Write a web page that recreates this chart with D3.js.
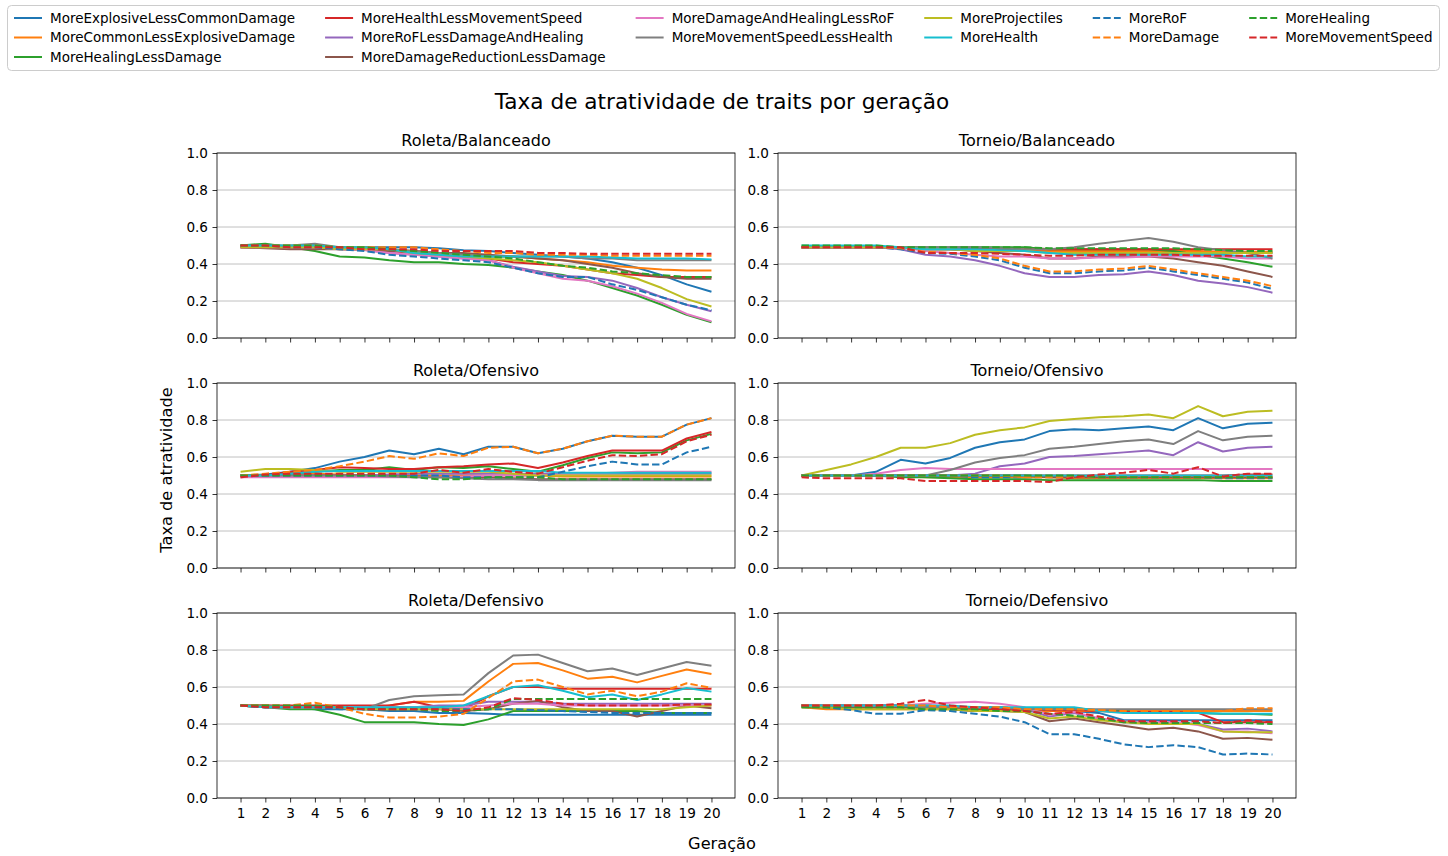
<!DOCTYPE html>
<html>
<head>
<meta charset="utf-8">
<script src="https://d3js.org/d3.v7.min.js"></script>
<style>
  html, body { margin: 0; padding: 0; background: #fff; }
  svg { display: block; font-family: "DejaVu Sans", sans-serif; }
</style>
</head>
<body>
<svg id="chart" width="1448" height="856"></svg>
<script>
// Generations on the x axis
const generations = [1, 2, 3, 4, 5, 6, 7, 8, 9, 10, 11, 12, 13, 14, 15, 16, 17, 18, 19, 20];
const yTicks = [0.0, 0.2, 0.4, 0.6, 0.8, 1.0];

// Traits, in plotting / legend order
const traitNames = [
  "MoreExplosiveLessCommonDamage", "MoreCommonLessExplosiveDamage", "MoreHealingLessDamage",
  "MoreHealthLessMovementSpeed", "MoreRoFLessDamageAndHealing", "MoreDamageReductionLessDamage",
  "MoreDamageAndHealingLessRoF", "MoreMovementSpeedLessHealth", "MoreProjectiles", "MoreHealth",
  "MoreRoF", "MoreDamage", "MoreHealing", "MoreMovementSpeed"
];
const traitColors = [
  "#1f77b4", "#ff7f0e", "#2ca02c", "#d62728", "#9467bd", "#8c564b", "#e377c2",
  "#7f7f7f", "#bcbd22", "#17becf", "#1f77b4", "#ff7f0e", "#2ca02c", "#d62728"
];
const traitDashed = [false, false, false, false, false, false, false, false, false, false, true, true, true, true];

// Attractiveness rate per generation, one row per trait (same order as traitNames)
const roletaBalanceado = [
  [0.49,0.49,0.49,0.49,0.49,0.49,0.49,0.49,0.485,0.475,0.47,0.46,0.45,0.44,0.43,0.41,0.38,0.34,0.29,0.25],
  [0.49,0.49,0.49,0.49,0.49,0.49,0.48,0.47,0.46,0.45,0.44,0.44,0.43,0.42,0.41,0.39,0.38,0.37,0.365,0.365],
  [0.50,0.51,0.49,0.47,0.44,0.435,0.42,0.41,0.41,0.40,0.395,0.38,0.36,0.34,0.31,0.27,0.23,0.18,0.125,0.085],
  [0.49,0.49,0.49,0.49,0.49,0.48,0.47,0.46,0.45,0.44,0.43,0.41,0.40,0.39,0.37,0.35,0.34,0.33,0.33,0.33],
  [0.49,0.49,0.49,0.49,0.48,0.475,0.46,0.45,0.44,0.43,0.42,0.385,0.36,0.335,0.33,0.31,0.27,0.22,0.18,0.145],
  [0.49,0.485,0.48,0.48,0.48,0.48,0.47,0.47,0.46,0.46,0.45,0.44,0.43,0.42,0.40,0.38,0.35,0.33,0.32,0.32],
  [0.49,0.49,0.49,0.49,0.48,0.475,0.46,0.45,0.44,0.43,0.42,0.38,0.35,0.32,0.31,0.28,0.24,0.19,0.13,0.09],
  [0.50,0.50,0.50,0.51,0.49,0.49,0.48,0.47,0.46,0.45,0.44,0.44,0.44,0.44,0.43,0.43,0.42,0.42,0.42,0.42],
  [0.49,0.49,0.49,0.49,0.48,0.48,0.48,0.46,0.45,0.44,0.43,0.42,0.41,0.39,0.37,0.35,0.32,0.27,0.21,0.17],
  [0.50,0.50,0.50,0.50,0.49,0.49,0.48,0.46,0.45,0.44,0.44,0.44,0.44,0.44,0.44,0.435,0.43,0.43,0.43,0.425],
  [0.50,0.50,0.49,0.49,0.48,0.47,0.45,0.44,0.43,0.42,0.41,0.38,0.35,0.33,0.33,0.29,0.26,0.22,0.18,0.15],
  [0.50,0.50,0.50,0.50,0.49,0.49,0.49,0.49,0.48,0.47,0.46,0.46,0.45,0.45,0.45,0.445,0.445,0.445,0.445,0.445],
  [0.50,0.50,0.50,0.50,0.49,0.49,0.48,0.47,0.46,0.45,0.44,0.43,0.41,0.39,0.38,0.36,0.35,0.34,0.33,0.33],
  [0.50,0.50,0.49,0.49,0.49,0.48,0.48,0.48,0.47,0.47,0.47,0.47,0.46,0.46,0.455,0.455,0.455,0.455,0.455,0.455]
];
const torneioBalanceado = [
  [0.49,0.49,0.49,0.49,0.49,0.48,0.48,0.48,0.475,0.47,0.47,0.47,0.47,0.47,0.465,0.465,0.465,0.46,0.46,0.46],
  [0.49,0.49,0.49,0.49,0.49,0.48,0.48,0.48,0.475,0.475,0.47,0.47,0.47,0.47,0.47,0.47,0.47,0.465,0.465,0.465],
  [0.49,0.49,0.49,0.49,0.49,0.49,0.49,0.49,0.49,0.49,0.48,0.48,0.48,0.48,0.48,0.47,0.45,0.43,0.41,0.385],
  [0.49,0.49,0.49,0.49,0.49,0.485,0.485,0.485,0.48,0.48,0.48,0.48,0.48,0.48,0.48,0.48,0.48,0.48,0.48,0.48],
  [0.49,0.49,0.49,0.49,0.48,0.45,0.44,0.42,0.39,0.35,0.33,0.33,0.34,0.345,0.36,0.34,0.31,0.295,0.275,0.245],
  [0.49,0.49,0.49,0.49,0.49,0.48,0.48,0.47,0.46,0.45,0.43,0.43,0.44,0.44,0.44,0.43,0.41,0.39,0.36,0.33],
  [0.49,0.49,0.49,0.49,0.49,0.47,0.46,0.45,0.44,0.44,0.43,0.43,0.435,0.435,0.44,0.44,0.44,0.44,0.43,0.43],
  [0.49,0.49,0.49,0.49,0.49,0.49,0.49,0.49,0.485,0.48,0.48,0.49,0.51,0.525,0.54,0.52,0.49,0.475,0.46,0.43],
  [0.49,0.49,0.49,0.49,0.49,0.48,0.48,0.47,0.47,0.47,0.46,0.46,0.46,0.46,0.46,0.46,0.46,0.46,0.46,0.46],
  [0.50,0.50,0.50,0.50,0.49,0.48,0.48,0.48,0.475,0.47,0.46,0.45,0.45,0.45,0.45,0.45,0.45,0.45,0.44,0.44],
  [0.49,0.49,0.49,0.49,0.48,0.46,0.455,0.44,0.42,0.38,0.35,0.35,0.36,0.365,0.38,0.36,0.34,0.32,0.30,0.265],
  [0.49,0.49,0.49,0.49,0.485,0.465,0.46,0.45,0.43,0.39,0.36,0.36,0.37,0.375,0.39,0.37,0.35,0.33,0.31,0.28],
  [0.50,0.50,0.50,0.50,0.49,0.49,0.49,0.49,0.49,0.49,0.485,0.485,0.485,0.485,0.485,0.485,0.48,0.475,0.47,0.47],
  [0.49,0.49,0.49,0.49,0.49,0.46,0.46,0.46,0.455,0.45,0.445,0.445,0.45,0.45,0.45,0.45,0.445,0.445,0.445,0.445]
];
const roletaOfensivo = [
  [0.50,0.505,0.52,0.54,0.575,0.60,0.635,0.615,0.645,0.615,0.655,0.655,0.62,0.645,0.685,0.715,0.71,0.71,0.775,0.81],
  [0.50,0.50,0.51,0.51,0.505,0.50,0.50,0.50,0.50,0.50,0.50,0.50,0.50,0.495,0.495,0.495,0.495,0.495,0.495,0.495],
  [0.50,0.50,0.51,0.52,0.53,0.53,0.545,0.53,0.545,0.54,0.55,0.535,0.52,0.555,0.595,0.625,0.62,0.625,0.69,0.725],
  [0.49,0.50,0.52,0.53,0.545,0.54,0.535,0.535,0.545,0.55,0.56,0.565,0.54,0.57,0.605,0.635,0.635,0.635,0.70,0.735],
  [0.50,0.50,0.50,0.50,0.50,0.50,0.505,0.51,0.51,0.51,0.51,0.51,0.51,0.51,0.51,0.51,0.51,0.51,0.51,0.51],
  [0.50,0.50,0.50,0.50,0.50,0.50,0.495,0.495,0.49,0.49,0.49,0.485,0.48,0.48,0.48,0.48,0.48,0.48,0.48,0.48],
  [0.49,0.49,0.49,0.49,0.49,0.49,0.49,0.49,0.49,0.495,0.50,0.50,0.50,0.505,0.51,0.515,0.52,0.52,0.52,0.52],
  [0.50,0.50,0.50,0.50,0.50,0.50,0.495,0.49,0.49,0.485,0.48,0.48,0.475,0.475,0.475,0.475,0.475,0.475,0.475,0.475],
  [0.52,0.535,0.535,0.53,0.52,0.52,0.52,0.52,0.52,0.52,0.52,0.51,0.50,0.50,0.50,0.50,0.50,0.50,0.50,0.50],
  [0.50,0.50,0.51,0.52,0.525,0.525,0.525,0.525,0.525,0.525,0.525,0.525,0.525,0.515,0.515,0.515,0.515,0.515,0.515,0.515],
  [0.50,0.50,0.50,0.50,0.50,0.50,0.50,0.50,0.50,0.49,0.49,0.49,0.49,0.52,0.55,0.575,0.56,0.56,0.625,0.655],
  [0.50,0.51,0.52,0.53,0.55,0.575,0.605,0.59,0.62,0.605,0.65,0.655,0.62,0.645,0.685,0.715,0.71,0.71,0.775,0.81],
  [0.50,0.50,0.50,0.50,0.50,0.50,0.50,0.49,0.48,0.48,0.49,0.49,0.49,0.48,0.48,0.48,0.48,0.48,0.48,0.48],
  [0.49,0.505,0.51,0.51,0.51,0.51,0.51,0.51,0.53,0.515,0.535,0.52,0.51,0.545,0.58,0.61,0.605,0.615,0.685,0.72]
];
const torneioOfensivo = [
  [0.50,0.50,0.50,0.52,0.585,0.565,0.595,0.65,0.68,0.695,0.74,0.75,0.745,0.755,0.765,0.745,0.81,0.755,0.78,0.785],
  [0.50,0.50,0.50,0.50,0.50,0.49,0.49,0.49,0.49,0.49,0.49,0.485,0.485,0.485,0.485,0.485,0.485,0.485,0.485,0.485],
  [0.50,0.50,0.50,0.50,0.49,0.49,0.485,0.48,0.48,0.48,0.475,0.475,0.475,0.475,0.475,0.475,0.475,0.47,0.47,0.47],
  [0.50,0.50,0.50,0.50,0.50,0.50,0.50,0.50,0.50,0.50,0.50,0.50,0.50,0.50,0.50,0.50,0.50,0.50,0.505,0.505],
  [0.50,0.50,0.50,0.50,0.50,0.50,0.50,0.51,0.55,0.565,0.60,0.605,0.615,0.625,0.635,0.61,0.68,0.63,0.65,0.655],
  [0.50,0.50,0.50,0.50,0.50,0.50,0.50,0.50,0.50,0.50,0.49,0.49,0.49,0.49,0.49,0.49,0.49,0.49,0.49,0.49],
  [0.50,0.50,0.50,0.51,0.53,0.54,0.535,0.535,0.535,0.535,0.535,0.535,0.535,0.535,0.535,0.535,0.535,0.535,0.535,0.535],
  [0.50,0.50,0.50,0.50,0.50,0.50,0.53,0.57,0.595,0.61,0.645,0.655,0.67,0.685,0.695,0.67,0.74,0.69,0.71,0.715],
  [0.50,0.53,0.56,0.60,0.65,0.65,0.675,0.72,0.745,0.76,0.795,0.805,0.815,0.82,0.83,0.81,0.875,0.82,0.845,0.85],
  [0.50,0.50,0.50,0.50,0.50,0.50,0.50,0.50,0.50,0.50,0.50,0.50,0.50,0.50,0.50,0.50,0.50,0.50,0.50,0.50],
  [0.50,0.50,0.50,0.50,0.50,0.50,0.50,0.49,0.49,0.49,0.49,0.49,0.49,0.49,0.49,0.49,0.49,0.485,0.485,0.485],
  [0.50,0.50,0.50,0.50,0.50,0.50,0.50,0.50,0.50,0.49,0.49,0.49,0.49,0.49,0.49,0.49,0.49,0.49,0.49,0.49],
  [0.50,0.50,0.50,0.50,0.50,0.50,0.50,0.50,0.50,0.50,0.50,0.50,0.49,0.49,0.49,0.49,0.49,0.49,0.49,0.49],
  [0.49,0.485,0.485,0.485,0.485,0.47,0.47,0.47,0.47,0.47,0.465,0.49,0.505,0.515,0.53,0.51,0.545,0.495,0.51,0.51]
];
const roletaDefensivo = [
  [0.50,0.49,0.49,0.48,0.48,0.48,0.47,0.47,0.46,0.46,0.455,0.45,0.45,0.45,0.45,0.45,0.45,0.45,0.45,0.45],
  [0.50,0.50,0.49,0.49,0.49,0.48,0.50,0.52,0.52,0.525,0.63,0.725,0.73,0.69,0.645,0.655,0.625,0.66,0.695,0.67],
  [0.50,0.49,0.48,0.48,0.45,0.41,0.41,0.41,0.40,0.395,0.425,0.47,0.47,0.47,0.47,0.47,0.47,0.46,0.46,0.46],
  [0.50,0.50,0.50,0.50,0.50,0.50,0.50,0.52,0.49,0.48,0.55,0.60,0.60,0.59,0.59,0.59,0.59,0.59,0.59,0.59],
  [0.50,0.49,0.49,0.49,0.49,0.49,0.49,0.49,0.50,0.50,0.52,0.52,0.52,0.51,0.51,0.51,0.51,0.51,0.51,0.51],
  [0.50,0.49,0.49,0.49,0.49,0.48,0.48,0.48,0.48,0.47,0.48,0.51,0.525,0.49,0.47,0.47,0.44,0.47,0.50,0.485],
  [0.50,0.49,0.49,0.49,0.49,0.49,0.49,0.49,0.49,0.49,0.50,0.51,0.51,0.50,0.50,0.50,0.50,0.50,0.50,0.50],
  [0.50,0.50,0.49,0.49,0.49,0.48,0.53,0.55,0.555,0.56,0.675,0.77,0.775,0.73,0.685,0.70,0.665,0.70,0.735,0.715],
  [0.50,0.49,0.49,0.49,0.49,0.48,0.48,0.48,0.48,0.48,0.48,0.48,0.48,0.48,0.48,0.48,0.48,0.48,0.49,0.50],
  [0.50,0.49,0.49,0.49,0.49,0.49,0.49,0.49,0.49,0.50,0.55,0.60,0.61,0.58,0.545,0.56,0.53,0.56,0.595,0.575],
  [0.50,0.49,0.49,0.49,0.48,0.48,0.48,0.48,0.48,0.48,0.48,0.48,0.475,0.47,0.465,0.46,0.46,0.46,0.46,0.46],
  [0.50,0.50,0.50,0.515,0.49,0.455,0.435,0.435,0.44,0.455,0.54,0.63,0.64,0.60,0.56,0.58,0.55,0.575,0.62,0.595],
  [0.50,0.50,0.50,0.50,0.49,0.48,0.48,0.48,0.47,0.47,0.48,0.535,0.535,0.535,0.535,0.535,0.535,0.535,0.535,0.535],
  [0.50,0.49,0.49,0.49,0.49,0.48,0.48,0.48,0.48,0.47,0.49,0.54,0.53,0.51,0.50,0.50,0.50,0.50,0.505,0.505]
];
const torneioDefensivo = [
  [0.50,0.50,0.50,0.50,0.50,0.50,0.49,0.49,0.49,0.48,0.47,0.47,0.46,0.42,0.42,0.42,0.42,0.42,0.42,0.42],
  [0.49,0.48,0.48,0.48,0.48,0.48,0.48,0.47,0.47,0.47,0.47,0.47,0.47,0.47,0.47,0.47,0.47,0.47,0.47,0.47],
  [0.49,0.49,0.49,0.49,0.49,0.49,0.49,0.48,0.48,0.48,0.48,0.485,0.475,0.47,0.46,0.46,0.46,0.455,0.455,0.45],
  [0.50,0.50,0.50,0.50,0.50,0.50,0.49,0.48,0.48,0.48,0.475,0.475,0.47,0.465,0.465,0.465,0.46,0.41,0.41,0.41],
  [0.50,0.49,0.49,0.49,0.49,0.49,0.49,0.49,0.49,0.48,0.44,0.46,0.43,0.41,0.41,0.41,0.40,0.37,0.375,0.36],
  [0.50,0.49,0.49,0.49,0.49,0.49,0.48,0.47,0.47,0.465,0.415,0.43,0.41,0.39,0.37,0.38,0.36,0.32,0.325,0.315],
  [0.50,0.50,0.50,0.50,0.50,0.51,0.515,0.52,0.51,0.49,0.45,0.465,0.43,0.415,0.41,0.41,0.395,0.36,0.36,0.35],
  [0.50,0.50,0.50,0.50,0.50,0.49,0.49,0.49,0.49,0.48,0.48,0.48,0.48,0.48,0.48,0.48,0.48,0.48,0.48,0.48],
  [0.50,0.49,0.48,0.48,0.48,0.48,0.48,0.47,0.47,0.465,0.43,0.44,0.42,0.41,0.40,0.40,0.40,0.36,0.355,0.355],
  [0.50,0.50,0.50,0.50,0.50,0.50,0.50,0.49,0.49,0.49,0.49,0.49,0.47,0.46,0.46,0.46,0.46,0.455,0.455,0.455],
  [0.50,0.49,0.475,0.455,0.455,0.475,0.47,0.455,0.44,0.41,0.345,0.345,0.32,0.29,0.275,0.285,0.275,0.235,0.24,0.235],
  [0.50,0.50,0.50,0.50,0.50,0.50,0.49,0.49,0.49,0.48,0.48,0.48,0.475,0.47,0.47,0.47,0.47,0.47,0.485,0.485],
  [0.49,0.49,0.49,0.49,0.49,0.48,0.48,0.48,0.47,0.47,0.455,0.445,0.43,0.41,0.405,0.405,0.405,0.405,0.405,0.40],
  [0.50,0.50,0.50,0.50,0.51,0.53,0.50,0.49,0.48,0.47,0.455,0.465,0.44,0.415,0.415,0.415,0.415,0.405,0.42,0.41]
];

const panelTitles = ["Roleta/Balanceado", "Torneio/Balanceado", "Roleta/Ofensivo", "Torneio/Ofensivo", "Roleta/Defensivo", "Torneio/Defensivo"];
const panelData = [roletaBalanceado, torneioBalanceado, roletaOfensivo, torneioOfensivo, roletaDefensivo, torneioDefensivo];

const svg = d3.select("#chart");
const FONT = "DejaVu Sans, sans-serif";

// Grid of subplot frames (2 columns x 3 rows)
const colX = [217, 778];
const rowY = [153, 383, 613];
const panelW = 518, panelH = 185;

// Figure title and shared labels
svg.append("text").attr("x", 722).attr("y", 109).attr("text-anchor", "middle")
  .attr("font-size", 21.6).attr("font-family", FONT).attr("fill", "#000")
  .text("Taxa de atratividade de traits por geração");
svg.append("text").attr("transform", "translate(172,470) rotate(-90)").attr("text-anchor", "middle")
  .attr("font-size", 16.2).attr("font-family", FONT).attr("fill", "#000")
  .text("Taxa de atratividade");
svg.append("text").attr("x", 722).attr("y", 849).attr("text-anchor", "middle")
  .attr("font-size", 16.2).attr("font-family", FONT).attr("fill", "#000")
  .text("Geração");

panelData.forEach((series, i) => {
  const col = i % 2, row = Math.floor(i / 2);
  const x0 = colX[col], y0 = rowY[row];
  const g = svg.append("g").attr("transform", `translate(${x0},${y0})`);

  const x = d3.scaleLinear().domain([0.05, 20.95]).range([0, panelW]);
  const y = d3.scaleLinear().domain([0, 1]).range([panelH, 0]);

  // horizontal grid
  g.append("g").selectAll("line").data(yTicks).join("line")
    .attr("x1", 0).attr("x2", panelW)
    .attr("y1", d => y(d)).attr("y2", d => y(d))
    .attr("stroke", "#b0b0b0").attr("stroke-width", 0.8);

  // y axis
  const yAxis = g.append("g").call(d3.axisLeft(y).tickValues(yTicks).tickFormat(d3.format(".1f")).tickSize(4.5).tickPadding(4.5));
  yAxis.select(".domain").remove();
  yAxis.selectAll("text").attr("font-size", 13.6).attr("font-family", FONT).attr("fill", "#000");
  yAxis.selectAll("line").attr("stroke", "#000").attr("stroke-width", 0.8);

  // x axis (labels only on the bottom row)
  const xAxis = g.append("g").attr("transform", `translate(0,${panelH})`)
    .call(d3.axisBottom(x).tickValues(generations).tickFormat(row === 2 ? d3.format("d") : () => "").tickSize(4.5).tickPadding(6));
  xAxis.select(".domain").remove();
  xAxis.selectAll("text").attr("font-size", 13.6).attr("font-family", FONT).attr("fill", "#000");
  xAxis.selectAll("line").attr("stroke", "#000").attr("stroke-width", 0.8);

  // trait lines
  const line = d3.line().x((d, k) => x(generations[k])).y(d => y(d));
  series.forEach((vals, s) => {
    g.append("path").datum(vals)
      .attr("d", line)
      .attr("fill", "none")
      .attr("stroke", traitColors[s])
      .attr("stroke-width", 2)
      .attr("stroke-linejoin", "round")
      .attr("stroke-dasharray", traitDashed[s] ? "7.4,3.2" : null);
  });

  // frame
  g.append("rect").attr("width", panelW).attr("height", panelH)
    .attr("fill", "none").attr("stroke", "#000").attr("stroke-width", 0.8);

  // subplot title
  g.append("text").attr("x", panelW / 2).attr("y", -7).attr("text-anchor", "middle")
    .attr("font-size", 16).attr("font-family", FONT).attr("fill", "#000")
    .text(panelTitles[i]);
});

// Legend (6 columns, filled column by column; column widths follow the widest label)
const legend = svg.append("g");
legend.append("rect").attr("x", 7.5).attr("y", 5.5).attr("width", 1432).attr("height", 65)
  .attr("rx", 4).attr("fill", "#fff").attr("fill-opacity", 0.8)
  .attr("stroke", "#cccccc").attr("stroke-width", 1);
const legendRows = [18, 37.5, 57];
const perCol = [3, 3, 2, 2, 2, 2];
const handleLen = 28, textPad = 8, colSpacing = 30;
let idx = 0;
let colStart = 14;
perCol.forEach((n, c) => {
  let maxW = 0;
  for (let r = 0; r < n; r++) {
    const s = idx++;
    const ly = legendRows[r];
    legend.append("line").attr("x1", colStart).attr("x2", colStart + handleLen).attr("y1", ly).attr("y2", ly)
      .attr("stroke", traitColors[s]).attr("stroke-width", 2)
      .attr("stroke-dasharray", traitDashed[s] ? "7.4,3.2" : null);
    const t = legend.append("text").attr("x", colStart + handleLen + textPad).attr("y", ly + 4.8)
      .attr("font-size", 13.5).attr("font-family", FONT).attr("fill", "#000")
      .text(traitNames[s]);
    maxW = Math.max(maxW, t.node().getComputedTextLength());
  }
  colStart += handleLen + textPad + maxW + colSpacing;
});
</script>
</body>
</html>
